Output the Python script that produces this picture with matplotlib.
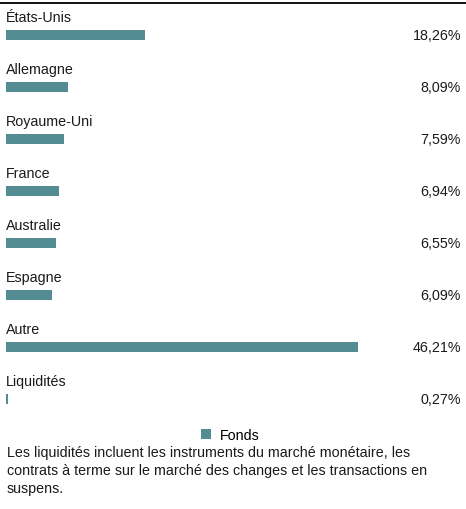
import matplotlib
matplotlib.use("Agg")
import matplotlib.pyplot as plt
from matplotlib.patches import Patch
from matplotlib.lines import Line2D

categories = ["États-Unis", "Allemagne", "Royaume-Uni", "France", "Australie", "Espagne", "Autre", "Liquidités"]
values = [18.26, 8.09, 7.59, 6.94, 6.55, 6.09, 46.21, 0.27]
value_labels = ["18,26%", "8,09%", "7,59%", "6,94%", "6,55%", "6,09%", "46,21%", "0,27%"]
series_name = "Fonds"
note_lines = [
    "Les liquidités incluent les instruments du marché monétaire, les",
    "contrats à terme sur le marché des changes et les transactions en",
    "suspens.",
]

COLOR = "#548c93"
W, H = 466, 510
FS = 10.3
plt.rcParams['font.family'] = ['Liberation Sans', 'DejaVu Sans']

fig = plt.figure(figsize=(W / 100, H / 100), dpi=100)
ax = fig.add_axes([6 / W, 1 - 426 / H, (463 - 6) / W, (426 - 10) / H])
ax.set_xlim(0, 60)
ax.set_ylim(len(categories) - 0.5, -0.5)
ax.axis("off")

ypos = list(range(len(categories)))
ax.barh(ypos, values, height=10 / 52, color=COLOR, align="center")

for i, (c, lab) in enumerate(zip(categories, value_labels)):
    ax.text(0, i - 18 / 52, c, ha="left", va="center", fontsize=FS, color="#1a1a1a")
    fig.text(461 / W, 1 - (36 + 52 * i) / H, lab, ha="right", va="center",
             fontsize=FS, color="#1a1a1a")

fig.add_artist(Line2D([0, 1], [1 - 4 / H, 1 - 4 / H], color="black", lw=1.3,
                      transform=fig.transFigure))

fig.legend(handles=[Patch(facecolor=COLOR, label=series_name)], loc="center",
           bbox_to_anchor=(230 / W, 1 - 436 / H), frameon=False, fontsize=FS,
           handlelength=0.7, handleheight=0.7, handletextpad=0.6,
           borderpad=0, borderaxespad=0)

for k, line in enumerate(note_lines):
    fig.text(7 / W, 1 - (453 + 18 * k) / H, line, ha="left", va="center",
             fontsize=FS, color="#1a1a1a")

fig.savefig("out.png", dpi=100, facecolor="white")
